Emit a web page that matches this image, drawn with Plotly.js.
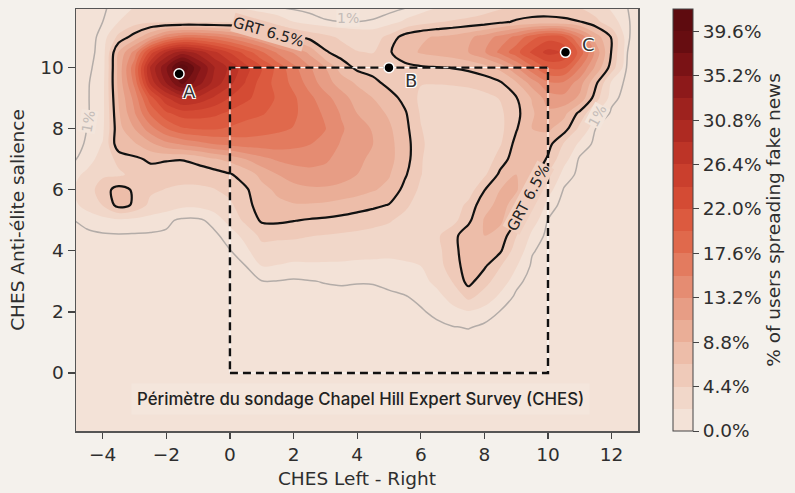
<!DOCTYPE html>
<html><head><meta charset="utf-8">
<script src="https://cdn.plot.ly/plotly-3.0.1.min.js"></script>
<style>html,body{margin:0;padding:0;background:#f4f1ec;}</style>
</head><body><div id="chart" style="width:795px;height:493px;"></div>
<script>
// ---- data ----
const xGrid = [-5,-4.5,-4,-3.5,-3,-2.5,-2,-1.5,-1,-0.5,0,0.5,1,1.5,2,2.5,3,3.5,4,4.5,5,5.5,6,6.5,7,7.5,8,8.5,9,9.5,10,10.5,11,11.5,12,12.5,13];
const yGrid = [12,11.5,11,10.5,10,9.5,9,8.5,8,7.5,7,6.5,6,5.5,5,4.5,4,3.5,3,2.5,2,1.5,1,0.5,0,-0.5,-1,-1.5,-2];
// % of users spreading fake news, rows from y=12 (top) to y=-2 (bottom)
const zRows = [
[0.3,0.5,0.8,1.5,2.2,2.6,2.8,2.8,2.8,2.6,2.4,1.8,1.2,0.9,0.7,0.6,0.5,0.5,0.5,0.5,0.6,0.8,1.2,2.0,2.6,3.0,3.5,4.0,4.6,5.0,5.0,4.8,4.2,3.2,1.8,1.0,0.5],
[0.3,0.6,1.0,2.2,3.5,4.0,4.0,4.0,4.0,4.0,4.0,4.0,4.0,3.2,2.2,1.5,1.1,1.0,1.0,1.1,1.5,2.5,3.5,4.2,4.6,4.9,5.3,6.0,6.8,7.2,7.3,7.1,6.6,5.0,3.0,1.1,0.4],
[0.4,0.7,1.2,5.0,7.5,11,15,17,17,16,14.5,12.5,10.5,8.5,7.0,5.8,5.0,4.0,3.5,3.4,5.0,7.5,8.5,9.0,9.5,10.5,12,14,16,19,21,20,15,10,6.3,1.1,0.4],
[0.5,0.8,1.2,9.0,14,23,29,32,30,27,24,21,18,15,13,10.5,6.8,5.5,4.5,4.3,6.2,8,9,9.5,10,11,13,16,19,22.5,25,24,19,12.5,6.3,1.0,0.4],
[0.5,0.85,1.3,9.5,17,29,35,41.5,36,31,28,25,22,19,16,13.5,11,7.8,6.0,5.5,5.8,5.8,6.2,6.4,6.6,7.0,7.8,9.5,13,17,20,20,15.5,10.5,5.5,0.7,0.4],
[0.5,0.9,1.5,9.5,16,27,33,38,34,30,27,24,21,19,17,14.5,12,10,8.5,7.2,5.8,4.8,4.5,4.5,4.6,4.8,5.3,6.2,8.5,12,15,15,12,7.0,1.8,0.7,0.4],
[0.5,0.9,1.6,9.0,14,21,26,29,28,26,24,22.5,21,19.5,18,16,14,12,10,8.8,7.5,5.8,4.0,3.5,3.4,3.5,3.8,4.5,6.3,9,12,12.5,10.5,5.3,1.3,0.6,0.4],
[0.5,0.9,1.6,8.5,13,18,21.5,23,23,22.5,21.5,20.5,20,19,18,16.5,15,13,11,9.8,8.5,6.8,4.2,3.3,3.0,3.0,3.2,4.0,5.8,8.5,10.5,9.5,5.8,2.3,0.8,0.5,0.4],
[0.5,1.0,1.8,8.0,11,14.5,17.5,19.5,20,20,19.5,19,18.5,18,17.5,16.5,15.5,13.5,12,10.8,9.2,7.2,4.5,3.3,2.8,2.8,3.0,3.8,6.3,8.8,9.2,7.5,3.8,1.0,0.6,0.4,0.4],
[0.6,1.1,2.3,8.0,8.5,10.5,12.5,13.5,14.5,15.5,16,16.5,16.5,16.5,16,15.5,14.5,13,12,11,9.5,7.5,4.8,3.2,2.5,2.4,2.8,4.2,7.2,8.5,7.3,4.2,1.8,0.7,0.5,0.4,0.4],
[0.8,1.4,3.0,5.0,6.0,6.9,6.7,6.6,7.2,8.5,9.5,11,12.5,13.5,14,14,13.5,12.5,11.5,10.5,9.5,7.5,4.6,3.0,2.3,2.2,2.8,5.5,7.6,8.3,6.2,2.8,0.8,0.5,0.4,0.4,0.4],
[1.5,2.6,4.0,4.0,5.0,5.5,5.3,5.2,5.3,5.5,6.3,7.5,9.5,11,12,12.5,12.5,12,11,10,9,6.8,4.5,3.0,2.4,2.4,4.0,7.0,8.8,7.8,4.3,1.6,0.7,0.4,0.4,0.4,0.4],
[2.0,3.2,5.6,7.3,6.2,4.8,4.3,4.0,4.0,4.3,5.0,6.2,8.0,9.3,10.2,10.6,10.6,10.2,9.7,9.0,8.2,5.8,4.0,3.0,2.6,3.2,6.4,8.8,9.0,7.0,2.8,0.9,0.5,0.4,0.4,0.4,0.4],
[1.6,2.8,4.5,7.3,6.2,3.8,3.0,2.5,2.5,3.0,4.0,5.8,7.5,8.2,8.6,8.6,8.4,8.0,7.6,7.0,6.4,4.8,3.5,2.8,3.0,5.0,8.0,9.5,8.0,4.8,1.6,0.6,0.4,0.4,0.4,0.4,0.4],
[0.95,1.2,1.5,1.8,1.6,1.4,1.2,0.8,0.8,1.3,2.8,5.0,6.8,6.9,6.6,6.3,6.1,5.8,5.3,5.0,4.6,3.8,3.2,3.0,3.6,6.0,9.0,9.2,6.8,3.0,0.95,0.5,0.4,0.4,0.4,0.4,0.4],
[0.7,0.85,0.9,0.9,0.9,0.9,0.85,0.7,0.7,0.8,1.4,2.8,5.0,4.9,4.8,4.5,4.3,4.1,4.0,3.8,3.6,3.3,3.0,4.0,5.8,7.8,8.8,8.0,4.5,1.8,0.7,0.5,0.4,0.4,0.4,0.4,0.4],
[0.55,0.6,0.6,0.6,0.6,0.6,0.6,0.6,0.6,0.6,0.95,1.8,3.5,3.3,3.2,3.1,3.0,2.9,2.8,2.7,2.6,2.6,2.7,3.8,5.6,8.0,8.2,6.8,3.3,1.1,0.6,0.4,0.4,0.4,0.4,0.4,0.4],
[0.5,0.5,0.5,0.5,0.5,0.5,0.5,0.5,0.5,0.5,0.7,1.0,2.2,2.1,1.8,1.9,1.9,1.9,1.8,1.8,1.8,2.0,2.2,3.5,5.5,7.5,6.8,4.5,2.3,0.8,0.5,0.4,0.4,0.4,0.4,0.4,0.4],
[0.5,0.5,0.5,0.5,0.5,0.5,0.5,0.5,0.5,0.5,0.5,0.7,0.95,0.95,0.85,0.95,1.05,1.1,1.05,1.05,1.2,1.4,1.7,2.6,4.5,7.2,5.2,3.2,1.3,0.6,0.4,0.4,0.4,0.4,0.4,0.4,0.4],
[0.5,0.5,0.5,0.5,0.5,0.5,0.5,0.5,0.5,0.5,0.5,0.5,0.5,0.6,0.6,0.7,0.7,0.75,0.75,0.8,0.85,0.95,1.2,1.7,2.8,5.0,3.5,1.8,0.8,0.5,0.4,0.4,0.4,0.4,0.4,0.4,0.4],
[0.5,0.5,0.5,0.5,0.5,0.5,0.5,0.5,0.5,0.5,0.5,0.5,0.5,0.5,0.5,0.5,0.5,0.5,0.5,0.5,0.6,0.7,0.9,1.2,1.7,2.0,1.4,0.95,0.6,0.5,0.4,0.4,0.4,0.4,0.4,0.4,0.4],
[0.5,0.5,0.5,0.5,0.5,0.5,0.5,0.5,0.5,0.5,0.5,0.5,0.5,0.5,0.5,0.5,0.5,0.5,0.5,0.5,0.5,0.55,0.6,0.8,0.95,1.05,0.85,0.6,0.5,0.45,0.4,0.4,0.4,0.4,0.4,0.4,0.4],
[0.5,0.5,0.5,0.5,0.5,0.5,0.5,0.5,0.5,0.5,0.5,0.5,0.5,0.5,0.5,0.5,0.5,0.5,0.5,0.5,0.5,0.5,0.5,0.55,0.6,0.6,0.55,0.5,0.5,0.45,0.4,0.4,0.4,0.4,0.4,0.4,0.4],
[0.5,0.5,0.5,0.5,0.5,0.5,0.5,0.5,0.5,0.5,0.5,0.5,0.5,0.5,0.5,0.5,0.5,0.5,0.5,0.5,0.5,0.5,0.5,0.5,0.5,0.5,0.5,0.5,0.5,0.45,0.4,0.4,0.4,0.4,0.4,0.4,0.4],
[0.5,0.5,0.5,0.5,0.5,0.5,0.5,0.5,0.5,0.5,0.5,0.5,0.5,0.5,0.5,0.5,0.5,0.5,0.5,0.5,0.5,0.5,0.5,0.5,0.5,0.5,0.5,0.5,0.5,0.45,0.4,0.4,0.4,0.4,0.4,0.4,0.4],
[0.5,0.5,0.5,0.5,0.5,0.5,0.5,0.5,0.5,0.5,0.5,0.5,0.5,0.5,0.5,0.5,0.5,0.5,0.5,0.5,0.5,0.5,0.5,0.5,0.5,0.5,0.5,0.5,0.5,0.45,0.4,0.4,0.4,0.4,0.4,0.4,0.4],
[0.5,0.5,0.5,0.5,0.5,0.5,0.5,0.5,0.5,0.5,0.5,0.5,0.5,0.5,0.5,0.5,0.5,0.5,0.5,0.5,0.5,0.5,0.5,0.5,0.5,0.5,0.5,0.5,0.5,0.45,0.4,0.4,0.4,0.4,0.4,0.4,0.4],
[0.5,0.5,0.5,0.5,0.5,0.5,0.5,0.5,0.5,0.5,0.5,0.5,0.5,0.5,0.5,0.5,0.5,0.5,0.5,0.5,0.5,0.5,0.5,0.5,0.5,0.5,0.5,0.5,0.5,0.45,0.4,0.4,0.4,0.4,0.4,0.4,0.4],
[0.5,0.5,0.5,0.5,0.5,0.5,0.5,0.5,0.5,0.5,0.5,0.5,0.5,0.5,0.5,0.5,0.5,0.5,0.5,0.5,0.5,0.5,0.5,0.5,0.5,0.5,0.5,0.5,0.5,0.45,0.4,0.4,0.4,0.4,0.4,0.4,0.4]
];
const levelStart = 0, levelEnd = 41.8, levelStep = 2.2;
const grtLevel = 6.5;     // "GRT 6.5%" contour
const lowLevel = 1;       // "1%" contour
const cbTickVals = [0,4.4,8.8,13.2,17.6,22,26.4,30.8,35.2,39.6];
const cbTickText = ['0.0%','4.4%','8.8%','13.2%','17.6%','22.0%','26.4%','30.8%','35.2%','39.6%'];
const xTicks = [-4,-2,0,2,4,6,8,10,12];
const yTicks = [0,2,4,6,8,10];
const surveyBoxX = [0,10,10,0,0];
const surveyBoxY = [0,0,10,10,0];
const pointNames = ['A','B','C'];
const pointX = [-1.6,5.0,10.55];
const pointY = [9.8,10.0,10.5];
const surveyLabel = 'Périmètre du sondage Chapel Hill Expert Survey (CHES)';

// ---- styles ----
const fillColors = ['#f4e7de','#f2ddd1','#f0d2c3','#eec6b4','#ecb9a4','#e9aa93','#e79a81','#e58a70','#e37a5d','#e0694c','#dc5a3f','#d54c35','#cc412e','#c03628','#b22c23','#a3241f','#931c1b','#821517','#6f0f13','#5e0b0f'];
const colorscale = fillColors.map((c,i)=>[i/(fillColors.length-1), c]);
const yAsc = yGrid.slice().reverse();
const zAsc = zRows.slice().reverse();
const font = 'DejaVu Sans, sans-serif';
const textColor = '#2e2e2e';

const traces = [
  {type:'contour', x:xGrid, y:yAsc, z:zAsc, zmin:levelStart, zmax:levelEnd, autocontour:false,
   contours:{start:levelStart, end:levelEnd, size:levelStep, coloring:'fill', showlines:false},
   line:{width:0, smoothing:0.9}, colorscale:colorscale, hoverinfo:'skip',
   colorbar:{x:1.0623, xanchor:'left', y:0.5, yanchor:'middle', len:1, lenmode:'fraction', thickness:20,
     xpad:0, ypad:0, outlinewidth:1, outlinecolor:'#444', tickvals:cbTickVals, ticktext:cbTickText,
     ticks:'outside', ticklen:6, tickcolor:'#444', tickfont:{family:font,size:18.5,color:textColor},
     title:{text:'% of users spreading fake news', side:'right', font:{family:font,size:18.5,color:textColor}}}},
  {type:'contour', x:xGrid, y:yAsc, z:zAsc, showscale:false, autocontour:false, hoverinfo:'skip',
   contours:{start:lowLevel, end:lowLevel, size:1, coloring:'none'},
   line:{color:'#b3aca8', width:1.5, smoothing:0.9}},
  {type:'contour', x:xGrid, y:yAsc, z:zAsc, showscale:false, autocontour:false, hoverinfo:'skip',
   contours:{start:grtLevel, end:grtLevel, size:1, coloring:'none'},
   line:{color:'#111', width:2.2, smoothing:0.9}},
  {type:'scatter', mode:'lines', x:surveyBoxX, y:surveyBoxY, line:{color:'#ffffff', width:1}, hoverinfo:'skip'},
  {type:'scatter', mode:'lines', x:surveyBoxX, y:surveyBoxY, line:{color:'#111', width:2.4, dash:'8px,5px'}, hoverinfo:'skip'},
  {type:'scatter', mode:'markers', x:pointX, y:pointY, marker:{size:10, color:'#000', line:{color:'#fff', width:1.5}}, hoverinfo:'skip'}
];

const halo = '1px 1px 0 #fff, -1px -1px 0 #fff, 1px -1px 0 #fff, -1px 1px 0 #fff, 0 0 2px #fff';
const letterShift = [[10,-18],[22,-13],[23,8]];
const annotations = pointNames.map((n,i)=>({x:pointX[i], y:pointY[i], text:n, showarrow:false,
  xshift:letterShift[i][0], yshift:letterShift[i][1], font:{family:font,size:18,color:'#333',shadow:halo}}));
annotations.push(
  {x:1.2, y:11.17, text:'GRT 6.5%', showarrow:false, textangle:16, bgcolor:'#efc8b7', borderpad:0,
   font:{family:font,size:15,color:'#222'}},
  {x:9.4, y:5.75, text:'GRT 6.5%', showarrow:false, textangle:-62, bgcolor:'#f0cfbf', borderpad:0,
   font:{family:font,size:15,color:'#222'}},
  {x:-4.45, y:8.25, text:'1%', showarrow:false, textangle:-80, bgcolor:'#f3e5db', borderpad:0,
   font:{family:font,size:14,color:'#c4bcb8'}},
  {x:3.7, y:11.64, text:'1%', showarrow:false, textangle:0, bgcolor:'#f3e5db', borderpad:0,
   font:{family:font,size:14,color:'#c4bcb8'}},
  {x:11.56, y:8.4, text:'1%', showarrow:false, textangle:-62, bgcolor:'#f3e5db', borderpad:0,
   font:{family:font,size:14,color:'#c4bcb8'}},
  {x:4.12, y:-0.85, text:surveyLabel, showarrow:false, bgcolor:'rgba(247,239,233,0.3)', borderpad:5,
   font:{family:'Inter, sans-serif',size:16.8,color:'#222',weight:500}}
);

const layout = {
  width:795, height:493, margin:{l:76, r:157, t:9, b:62},
  paper_bgcolor:'#f4f1ec', plot_bgcolor:'#f4e7de', showlegend:false,
  font:{family:font, color:textColor},
  xaxis:{range:[-4.84,12.83], tickvals:xTicks, ticks:'outside', ticklen:6, tickcolor:'#444', tickwidth:1.2,
    showline:true, linecolor:'#555', linewidth:1.5, mirror:true, showgrid:false, zeroline:false,
    tickfont:{size:18.5,color:textColor}, title:{text:'CHES Left - Right', font:{size:18.5,color:textColor}, standoff:8}},
  yaxis:{range:[-1.9,11.92], tickvals:yTicks, ticks:'outside', ticklen:7, tickcolor:'#444', tickwidth:1.2,
    showline:true, linecolor:'#555', linewidth:1.5, mirror:true, showgrid:false, zeroline:false,
    tickfont:{size:18.5,color:textColor}, title:{text:'CHES Anti-élite salience', font:{size:18.5,color:textColor}, standoff:11}},
  annotations:annotations
};
Plotly.newPlot('chart', traces, layout, {displayModeBar:false, staticPlot:true});
</script></body></html>
